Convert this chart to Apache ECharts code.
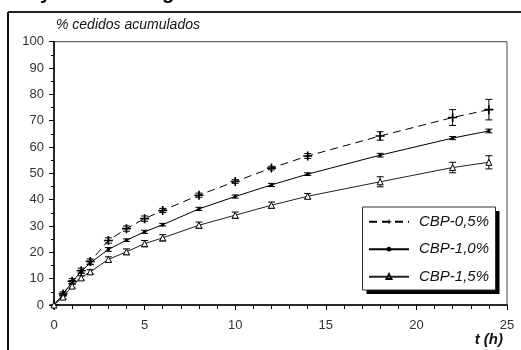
<!DOCTYPE html>
<html>
<head>
<meta charset="utf-8">
<script src="https://cdn.jsdelivr.net/npm/echarts@6/dist/echarts.min.js"></script>
<style>
html,body{margin:0;padding:0;background:#fff;}
#chart{width:521px;height:350px;}
</style>
</head>
<body>
<div id="chart"></div>
<script>
// ---- data ----
var times = [0, 0.5, 1, 1.5, 2, 3, 4, 5, 6, 8, 10, 12, 14, 18, 22, 24];
var seriesNames = ['CBP-0,5%', 'CBP-1,0%', 'CBP-1,5%'];
var cbp05 = [0, 4.2, 9, 13, 16.5, 24.5, 29, 32.8, 35.9, 41.7, 46.9, 52, 56.6, 64.2, 71.2, 74.2];
var err05 = [0, 0.8, 1, 1, 1, 1, 1, 1, 0.8, 0.8, 0.7, 0.7, 0.9, 1.6, 3, 3.9];
var cbp10 = [0, 4, 8.8, 12.7, 16, 21.1, 24.6, 27.8, 30.5, 36.5, 41.2, 45.6, 49.7, 56.9, 63.4, 66.1];
var err10 = [0, 0.5, 0.5, 0.5, 0.7, 0.7, 0.5, 0.6, 0.5, 0.6, 0.6, 0.6, 0.5, 0.7, 0.6, 0.7];
var cbp15 = [0, 3, 7.2, 10.3, 12.6, 17.3, 20.2, 23.3, 25.5, 30.3, 34.1, 37.9, 41.3, 46.8, 52.2, 54.2];
var err15 = [0, 0.6, 0.8, 0.8, 0.8, 1, 1.1, 1.2, 1.2, 1.2, 1.2, 1.2, 1, 1.9, 2, 2.5];
var yAxisTitle = '% cedidos acumulados';
var xAxisTitle = 't (h)';

var FONT = '"Liberation Sans Narrow", "Arial Narrow", "Liberation Sans", Arial, sans-serif';

function pairs(vals) {
  return times.map(function (t, i) { return [t, vals[i]]; });
}
function errData(vals, errs) {
  return times.map(function (t, i) { return [t, vals[i] - errs[i], vals[i] + errs[i]]; });
}
function errSeries(vals, errs, color) {
  return {
    type: 'custom',
    silent: true,
    z: 3,
    data: errData(vals, errs),
    renderItem: function (params, api) {
      if (api.value(2) - api.value(1) <= 0) return null;
      var lo = api.coord([api.value(0), api.value(1)]);
      var hi = api.coord([api.value(0), api.value(2)]);
      var hw = 3.5;
      var st = { stroke: color, lineWidth: 1, fill: null };
      return {
        type: 'group',
        children: [
          { type: 'line', shape: { x1: lo[0], y1: lo[1], x2: hi[0], y2: hi[1] }, style: st },
          { type: 'line', shape: { x1: lo[0] - hw, y1: lo[1], x2: lo[0] + hw, y2: lo[1] }, style: st },
          { type: 'line', shape: { x1: hi[0] - hw, y1: hi[1], x2: hi[0] + hw, y2: hi[1] }, style: st }
        ]
      };
    }
  };
}

var plusPath = 'path://M-0.9,-5H0.9V-0.9H5V0.9H0.9V5H-0.9V0.9H-5V-0.9H-0.9Z';

var chart = echarts.init(document.getElementById('chart'), null, { renderer: 'canvas' });
chart.setOption({
  backgroundColor: '#fff',
  animation: false,
  textStyle: { fontFamily: FONT },
  grid: {
    left: 54, right: 14, top: 41.7, bottom: 45,
    show: true, borderColor: '#444', borderWidth: 1, backgroundColor: 'transparent'
  },
  xAxis: {
    type: 'value', min: 0, max: 25, interval: 5,
    axisLine: { onZero: false, lineStyle: { color: '#000', width: 1.5 } },
    axisTick: { show: true, inside: false, length: 5, lineStyle: { color: '#000', width: 1 } },
    minorTick: { show: true, splitNumber: 5, length: 4, lineStyle: { color: '#000', width: 1 } },
    splitLine: { show: false },
    axisLabel: { color: '#333', fontSize: 13, fontFamily: FONT, margin: 14 }
  },
  yAxis: {
    type: 'value', min: 0, max: 100, interval: 10,
    axisLine: { show: true, onZero: false, lineStyle: { color: '#000', width: 1.5 } },
    axisTick: { show: true, inside: false, length: 5, lineStyle: { color: '#000', width: 1 } },
    minorTick: { show: true, splitNumber: 2, length: 3, lineStyle: { color: '#000', width: 1 } },
    splitLine: { show: false },
    axisLabel: { color: '#333', fontSize: 13, fontFamily: FONT, margin: 10 }
  },
  legend: {
    data: seriesNames,
    orient: 'vertical',
    left: 368, top: 212.7,
    padding: 0,
    z: 10,
    itemWidth: 40, itemHeight: 6, itemGap: 9.5,
    textStyle: { fontFamily: FONT, fontStyle: 'italic', fontSize: 15, color: '#111', lineHeight: 18, padding: [0, 0, 0, 5] },
    selectedMode: false
  },
  graphic: [
    // outer frame
    { type: 'line', shape: { x1: 8, y1: 12, x2: 521, y2: 12 }, style: { stroke: '#222', lineWidth: 2 }, z: 0 },
    { type: 'line', shape: { x1: 8, y1: 12, x2: 8, y2: 350 }, style: { stroke: '#111', lineWidth: 2 }, z: 0 },
    // cropped title fragments (only descenders visible at the top edge)
    { type: 'text', x: 40, y: -17, style: { text: 'y', font: 'bold 20px "Liberation Sans", Arial, sans-serif', fill: '#000', verticalAlign: 'top' } },
    { type: 'text', x: 162, y: -17, style: { text: 'g', font: 'bold 20px "Liberation Sans", Arial, sans-serif', fill: '#000', verticalAlign: 'top' } },
    // axis titles
    { type: 'text', x: 56, y: 25, style: { text: yAxisTitle, font: 'italic 14px ' + FONT, fill: '#111', verticalAlign: 'middle' } },
    { type: 'text', x: 503, y: 340, style: { text: xAxisTitle, font: 'italic bold 15px ' + FONT, fill: '#111', align: 'right', verticalAlign: 'middle' } },
    // legend box + shadow
    { type: 'rect', shape: { x: 366.5, y: 211, width: 133, height: 83 }, style: { fill: '#000' }, z: 1 },
    { type: 'rect', shape: { x: 362.5, y: 207, width: 133, height: 83 }, style: { fill: '#fff', stroke: '#333', lineWidth: 1 }, z: 1 }
  ],
  series: [
    {
      name: seriesNames[0], type: 'line', data: pairs(cbp05), z: 4,
      color: '#000',
      symbol: plusPath, symbolSize: 9, showSymbol: true,
      lineStyle: { color: '#000', width: 1, type: [8, 5] },
      itemStyle: { color: '#000', borderWidth: 0 }
    },
    {
      name: seriesNames[1], type: 'line', data: pairs(cbp10), z: 4,
      color: '#000',
      symbol: 'circle', symbolSize: 3.5,
      lineStyle: { color: '#000', width: 1 },
      itemStyle: { color: '#000', borderWidth: 0 }
    },
    {
      name: seriesNames[2], type: 'line', data: pairs(cbp15), z: 4,
      color: '#222',
      symbol: 'triangle', symbolSize: 6,
      lineStyle: { color: '#222', width: 1 },
      itemStyle: { color: '#fff', borderColor: '#000', borderWidth: 1 }
    },
    errSeries(cbp05, err05, '#000'),
    errSeries(cbp10, err10, '#000'),
    errSeries(cbp15, err15, '#000')
  ]
});
</script>
</body>
</html>
